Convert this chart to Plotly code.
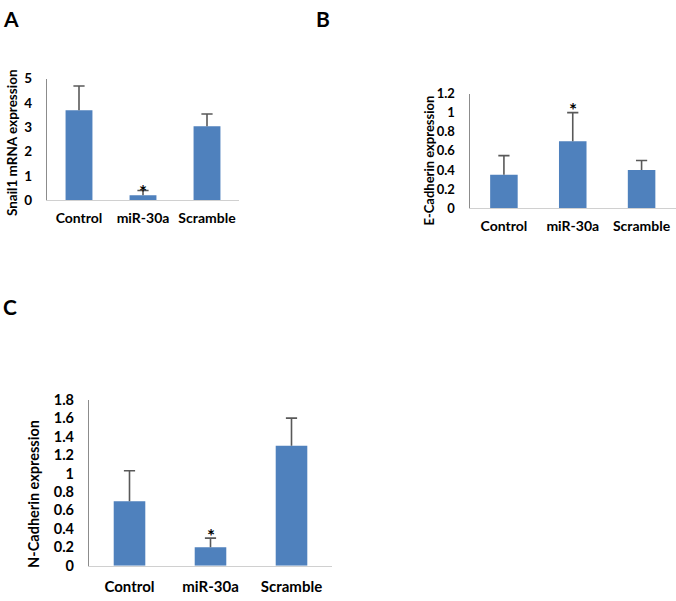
import plotly.graph_objects as go

categories = ["Control", "miR-30a", "Scramble"]

snail_vals = [3.7, 0.21, 3.05]
snail_err = [1.0, 0.2, 0.5]

ecad_vals = [0.35, 0.7, 0.4]
ecad_err = [0.2, 0.3, 0.1]

ncad_vals = [0.7, 0.2, 1.3]
ncad_err = [0.33, 0.1, 0.3]

snail_ticks = [0, 1, 2, 3, 4, 5]
ecad_ticks = [0, 0.2, 0.4, 0.6, 0.8, 1, 1.2]
ncad_ticks = [0, 0.2, 0.4, 0.6, 0.8, 1, 1.2, 1.4, 1.6, 1.8]

panel_letters = ["A", "B", "C"]
y_titles = ["Snail1 mRNA expression", "E-Cadherin expression", "N-Cadherin expression"]
star_pos = [0.55, 1.07, 0.37]  # y positions of significance star over miR-30a

W, H = 676, 601
BLUE = "#4F81BD"
ERR = "#595959"
FONT = "Lato"

def px_x(p):
    return p / W

def px_y(p):
    return 1 - p / H

panels = [
    dict(vals=snail_vals, err=snail_err, ticks=snail_ticks, rng=[0, 5],
         xd=[47, 239], yd=[197, 71.7], fs=13.5, tfs=13.5, cfs=14, bw=0.42,
         title_x=12, title_y=138, letter=(11, 10), letter_fs=21, cso=5),
    dict(vals=ecad_vals, err=ecad_err, ticks=ecad_ticks, rng=[0, 1.2],
         xd=[469.5, 676], yd=[205, 87], fs=13, tfs=13, cfs=14, bw=0.40,
         title_x=429, title_y=156, letter=(323, 10), letter_fs=21, cso=5),
    dict(vals=ncad_vals, err=ncad_err, ticks=ncad_ticks, rng=[0, 1.8],
         xd=[89, 332], yd=[573, 402], fs=14.5, tfs=14.5, cfs=15, bw=0.39,
         title_x=34, title_y=499, letter=(10, 306), letter_fs=21, cso=7),
]

fig = go.Figure()
annotations = []
for i, p in enumerate(panels):
    n = i + 1
    xa = "x" if n == 1 else f"x{n}"
    ya = "y" if n == 1 else f"y{n}"
    tops = [v + e for v, e in zip(p["vals"], p["err"])]
    fig.add_trace(go.Bar(
        x=categories, y=p["vals"], xaxis=xa, yaxis=ya,
        marker=dict(color=BLUE, line=dict(width=0)),
        width=p["bw"],
        error_y=dict(type="data", symmetric=False, array=p["err"],
                     arrayminus=[0] * len(p["err"]), color=ERR,
                     thickness=1.6, width=0),
        showlegend=False, hoverinfo="skip",
    ))
    fig.add_trace(go.Scatter(
        x=categories, y=tops, xaxis=xa, yaxis=ya, mode="markers",
        marker=dict(symbol="line-ew", size=8, line=dict(width=1.6, color=ERR)),
        showlegend=False, hoverinfo="skip",
    ))
    xkey = "xaxis" if n == 1 else f"xaxis{n}"
    ykey = "yaxis" if n == 1 else f"yaxis{n}"
    fig.layout[xkey] = dict(
        domain=[px_x(p["xd"][0]), px_x(p["xd"][1])], anchor=ya,
        showgrid=False, showline=True, linecolor="#d0d0d0", linewidth=1.2,
        ticks="", tickfont=dict(family=FONT, size=p["cfs"], color="black", weight="bold"),
        zeroline=False, fixedrange=True, ticklabelstandoff=p["cso"],
    )
    fig.layout[ykey] = dict(
        domain=[px_y(p["yd"][0]), px_y(p["yd"][1])], anchor=xa,
        range=p["rng"], tickvals=p["ticks"],
        ticktext=[f"{t:g}" for t in p["ticks"]],
        showgrid=False, showline=True, linecolor="#8c8c8c", linewidth=1.2,
        ticks="", tickfont=dict(family=FONT, size=p["tfs"], color="black", weight="bold"),
        zeroline=False, fixedrange=True, ticklabelstandoff=11,
    )
    annotations.append(dict(
        text=y_titles[i], textangle=-90, xref="paper", yref="paper",
        x=px_x(p["title_x"]), y=px_y(p["title_y"]), xanchor="center", yanchor="middle",
        showarrow=False, font=dict(family=FONT, size=p["fs"], color="black", weight="bold"),
    ))
    annotations.append(dict(
        text=panel_letters[i], xref="paper", yref="paper",
        x=px_x(p["letter"][0]), y=px_y(p["letter"][1]), xanchor="center", yanchor="middle",
        showarrow=False, font=dict(family=FONT, size=p["letter_fs"], color="black", weight="bold"),
    ))
    annotations.append(dict(
        text="*", xref=xa, yref=ya, x=categories[1], y=star_pos[i],
        xanchor="center", yanchor="middle", yshift=-4,
        showarrow=False, font=dict(family=FONT, size=19, color="black", weight="bold"),
    ))

fig.update_layout(
    width=W, height=H, margin=dict(l=0, r=0, t=0, b=0),
    paper_bgcolor="white", plot_bgcolor="white",
    annotations=annotations,
)

fig.write_html("out.html", config={"displayModeBar": False},
               post_script="document.body.style.margin='0';")
